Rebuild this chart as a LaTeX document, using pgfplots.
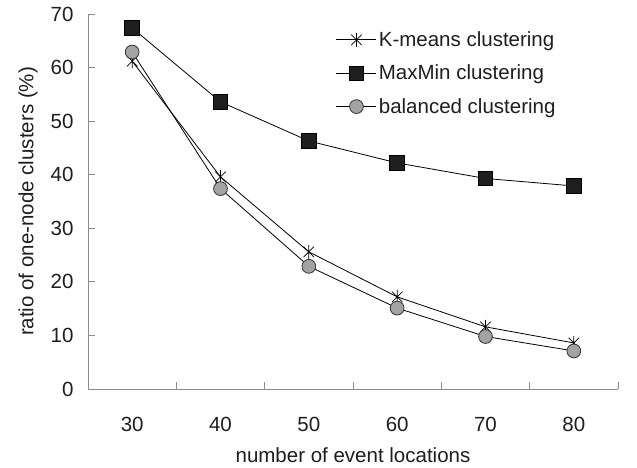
\documentclass[border=0pt]{standalone}
\usepackage{pgfplots}
\pgfplotsset{compat=1.18}
\usepackage{fontspec}
\setmainfont{Liberation Sans}
\definecolor{axisgray}{HTML}{8C8C8C}
\definecolor{markgray}{HTML}{A3A3A3}
\definecolor{txt}{HTML}{1E1E1E}

% star as drawn by the spreadsheet: an X with a vertical bar
\pgfdeclareplotmark{xstar}{%
  \pgfpathmoveto{\pgfpoint{0pt}{\pgfplotmarksize}}%
  \pgfpathlineto{\pgfpoint{0pt}{-\pgfplotmarksize}}%
  \pgfpathmoveto{\pgfpoint{-0.75\pgfplotmarksize}{-0.75\pgfplotmarksize}}%
  \pgfpathlineto{\pgfpoint{0.75\pgfplotmarksize}{0.75\pgfplotmarksize}}%
  \pgfpathmoveto{\pgfpoint{-0.75\pgfplotmarksize}{0.75\pgfplotmarksize}}%
  \pgfpathlineto{\pgfpoint{0.75\pgfplotmarksize}{-0.75\pgfplotmarksize}}%
  \pgfusepathqstroke}

\begin{document}
\begin{tikzpicture}
\begin{axis}[
    name=ax,
    scale only axis,
    width=530pt, height=375pt,
    xmin=-0.5, xmax=5.5,
    ymin=0, ymax=70,
    xtick={0,...,5},
    xticklabels={30,40,50,60,70,80},
    minor xtick={-0.5,0.5,...,5.5},
    ytick={0,10,...,70},
    axis x line*=bottom,
    axis y line*=left,
    axis line style={draw=axisgray, line width=0.8pt, -},
    tick align=inside,
    major tick length=7pt,
    minor tick length=7pt,
    major x tick style={draw=none},
    every tick/.style={draw=axisgray, line width=0.8pt},
    every minor tick/.style={draw=axisgray, line width=0.8pt},
    /pgf/number format/assume math mode=true,
    tick label style={font=\fontsize{20.5}{24}\selectfont, text=txt},
    xticklabel style={yshift=-25pt},
    yticklabel style={xshift=-11pt},
    xlabel={number of event locations},
    ylabel={ratio of one-node clusters (\%)},
    label style={font=\fontsize{20.5}{24}\selectfont, text=txt},
    xlabel style={at={(axis description cs:0.5,-0.176)}, anchor=center},
    ylabel style={at={(axis description cs:-0.113,0.5)}, anchor=center},
    legend style={
        at={(0.462,0.964)}, anchor=north west,
        draw=none, fill=none,
        font=\fontsize{20.5}{24}\selectfont,
        text=txt,
        row sep=13pt,
        /tikz/every even column/.append style={column sep=6pt},
    },
    legend cell align=left,
    legend image code/.code={
        \draw[#1, mark repeat=2, mark phase=2] plot coordinates {(0pt,0pt) (20pt,0pt) (40pt,0pt)};
    },
]

\addplot[black, line width=0.8pt, mark=xstar, mark size=7pt,
    mark options={line width=0.7pt}]
    coordinates {
        (0,61.2)(1,39.6)(2,25.6)(3,17.2)(4,11.6)(5,8.6)
    };
    \addlegendentry{K-means clustering}

\addplot[black, line width=0.8pt, mark=square*, mark size=7.3pt,
    mark options={fill=black!88, draw=black}]
    coordinates {
        (0,67.4)(1,53.6)(2,46.3)(3,42.2)(4,39.3)(5,37.9)
    };
    \addlegendentry{MaxMin clustering}

\addplot[black, line width=0.8pt, mark=*, mark size=6.9pt,
    mark options={fill=markgray, draw=black!80, line width=0.8pt}]
    coordinates {
        (0,62.9)(1,37.4)(2,22.9)(3,15.1)(4,9.8)(5,7.1)
    };
    \addlegendentry{balanced clustering}

\end{axis}
\path ([shift={(-88pt,-79pt)}]ax.south west) rectangle ([shift={(19pt,14pt)}]ax.north east);
\end{tikzpicture}
\end{document}
